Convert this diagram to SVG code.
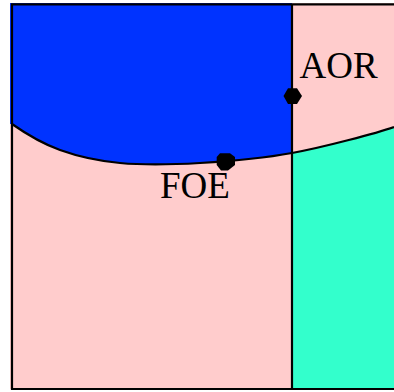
<svg xmlns="http://www.w3.org/2000/svg" width="394" height="392" viewBox="0 0 394 392">
  <style>
    .edge { fill: none; stroke: #000; stroke-width: 2.2; }
    .dot { fill: #000; stroke: none; }
    .label { font-family: "Liberation Serif", "Times New Roman", serif; font-size: 37px; fill: #000; }
  </style>

  <!-- regions -->
  <g id="regions">
    <rect x="10" y="3" width="384" height="386" fill="#FFCCCC"/>
    <path id="region-blue" fill="#0033FF"
          d="M12,124 C22,131 42,143.5 60,150 C78,156.5 96.7,160.8 120,163 C143.3,165.2 171.3,164.7 200,163 C228.7,161.3 259.7,159 292,153 L292,3 L10,3 L10,124 Z"/>
    <path id="region-teal" fill="#33FFCC"
          d="M292,153 C324.3,147 377,133 394,127 L394,389 L292,389 Z"/>
  </g>

  <!-- boundaries -->
  <g id="connectors">
    <path class="edge" d="M12,124 C22,131 42,143.5 60,150 C78,156.5 96.7,160.8 120,163 C143.3,165.2 171.3,164.7 200,163 C228.7,161.3 259.7,159 292,153 C324.3,147 377,133 394,127"/>
    <line class="edge" x1="292" y1="4" x2="292" y2="389"/>
    <polyline class="edge" points="394,4.3 12,4.3 12,389 394,389"/>
  </g>

  <g id="node-aor">
    <polygon class="dot" points="283.5,96 288,88.3 297,88.3 302,96 297,104 288,104"/>
    <text class="label" x="299.5" y="77.5">AOR</text>
  </g>

  <g id="node-foe">
    <polygon class="dot" points="220,153.3 230,153.3 235,157 235,165 228,170.5 221,170.5 216.7,165 216.7,157"/>
    <text class="label" x="160" y="197.7">FOE</text>
  </g>
</svg>
